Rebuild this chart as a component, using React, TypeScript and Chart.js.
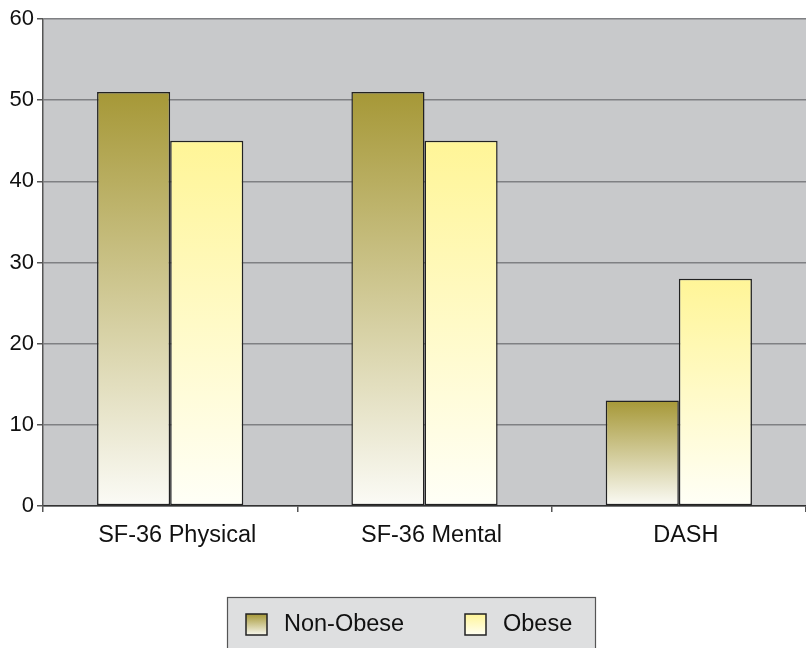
import React, { useEffect, useRef } from "react";
import { Chart, registerables } from "chart.js";

Chart.register(...registerables);

const categories = ["SF-36 Physical", "SF-36 Mental", "DASH"];
const nonObese = [51, 51, 13];
const obese = [45, 45, 28];
const seriesLabels = ["Non-Obese", "Obese"];
const yTicks = [0, 10, 20, 30, 40, 50, 60];

const FONT = "'Liberation Sans', Arial, Helvetica, sans-serif";
const grads = [
  ["#a69837", "#fbfbf6"],
  ["#fff597", "#fffff7"],
];

function barGradient(ctx: any, dsIndex: number) {
  const chart = ctx.chart;
  const y = chart.scales && chart.scales.y;
  if (!y || ctx.type !== "data") return grads[dsIndex][0];
  const v = ctx.raw as number;
  const top = y.getPixelForValue(v);
  const bottom = y.getPixelForValue(0);
  if (!isFinite(top) || !isFinite(bottom) || top === bottom) return grads[dsIndex][0];
  const g = chart.ctx.createLinearGradient(0, top, 0, bottom);
  g.addColorStop(0, grads[dsIndex][0]);
  g.addColorStop(1, grads[dsIndex][1]);
  return g;
}

const bgPlugin = {
  id: "plotBg",
  beforeDraw(chart: any) {
    const { ctx, chartArea } = chart;
    ctx.save();
    ctx.fillStyle = "#c8c9cb";
    ctx.fillRect(chartArea.left, chartArea.top, chartArea.right - chartArea.left, chartArea.bottom - chartArea.top);
    ctx.restore();
  },
};

const legendPlugin = {
  id: "boxLegend",
  afterDraw(chart: any) {
    const { ctx } = chart;
    ctx.save();
    ctx.fillStyle = "#dedfe0";
    ctx.strokeStyle = "#555";
    ctx.lineWidth = 1.2;
    ctx.fillRect(227, 597, 368, 60);
    ctx.strokeRect(227.5, 597.5, 368, 60);
    const xs = [246, 465];
    chart.data.datasets.forEach((ds: any, i: number) => {
      const x = xs[i];
      const g = ctx.createLinearGradient(0, 614, 0, 636);
      g.addColorStop(0, grads[i][0]);
      g.addColorStop(1, grads[i][1]);
      ctx.fillStyle = g;
      ctx.fillRect(x, 614, 21, 21);
      ctx.strokeStyle = "#222";
      ctx.lineWidth = 1.5;
      ctx.strokeRect(x, 614, 21, 21);
      ctx.fillStyle = "#111";
      ctx.font = `23.5px ${FONT}`;
      ctx.textBaseline = "middle";
      ctx.textAlign = "left";
      ctx.fillText(ds.label, x + 38, 625);
    });
    ctx.restore();
  },
};

export default function App() {
  const ref = useRef<HTMLCanvasElement>(null);
  useEffect(() => {
    document.body.style.margin = "0";
    const chart = new Chart(ref.current!, {
      type: "bar",
      data: {
        labels: categories,
        datasets: [
          {
            label: seriesLabels[0],
            data: nonObese,
            backgroundColor: (c: any) => barGradient(c, 0),
            borderColor: "#222",
            borderWidth: 1.5,
            borderSkipped: false,
          },
          {
            label: seriesLabels[1],
            data: obese,
            backgroundColor: (c: any) => barGradient(c, 1),
            borderColor: "#222",
            borderWidth: 1.5,
            borderSkipped: false,
          },
        ],
      },
      options: {
        animation: false,
        responsive: true,
        maintainAspectRatio: false,
        layout: { padding: { top: 19, right: 0, left: 0, bottom: 0 } },
        datasets: { bar: { categoryPercentage: 0.575, barPercentage: 1 } },
        plugins: { legend: { display: false }, tooltip: { enabled: false } },
        scales: {
          x: {
            grid: { offset: true, drawOnChartArea: false, color: "#555", tickLength: 6, lineWidth: 1.5 },
            border: { color: "#333", width: 1.5 },
            ticks: { font: { family: FONT, size: 23.5 }, color: "#111", padding: 9, maxRotation: 0, labelOffset: 7 },
            afterFit(scale: any) { scale.height = 142; },
          },
          y: {
            min: 0,
            max: 60,
            afterBuildTicks(scale: any) { scale.ticks = yTicks.map((v) => ({ value: v })); },
            grid: { color: "#7f8083", lineWidth: 1.5, tickLength: 6, tickColor: "#555" },
            border: { color: "#555", width: 1.5 },
            ticks: { font: { family: FONT, size: 22 }, color: "#111", padding: 3 },
            afterFit(scale: any) { scale.width = 43; },
          },
        },
      },
      plugins: [bgPlugin, legendPlugin],
    });
    return () => chart.destroy();
  }, []);
  return (
    <div style={{ position: "absolute", left: 0, top: 0, width: 806, height: 648 }}>
      <canvas ref={ref} />
    </div>
  );
}
